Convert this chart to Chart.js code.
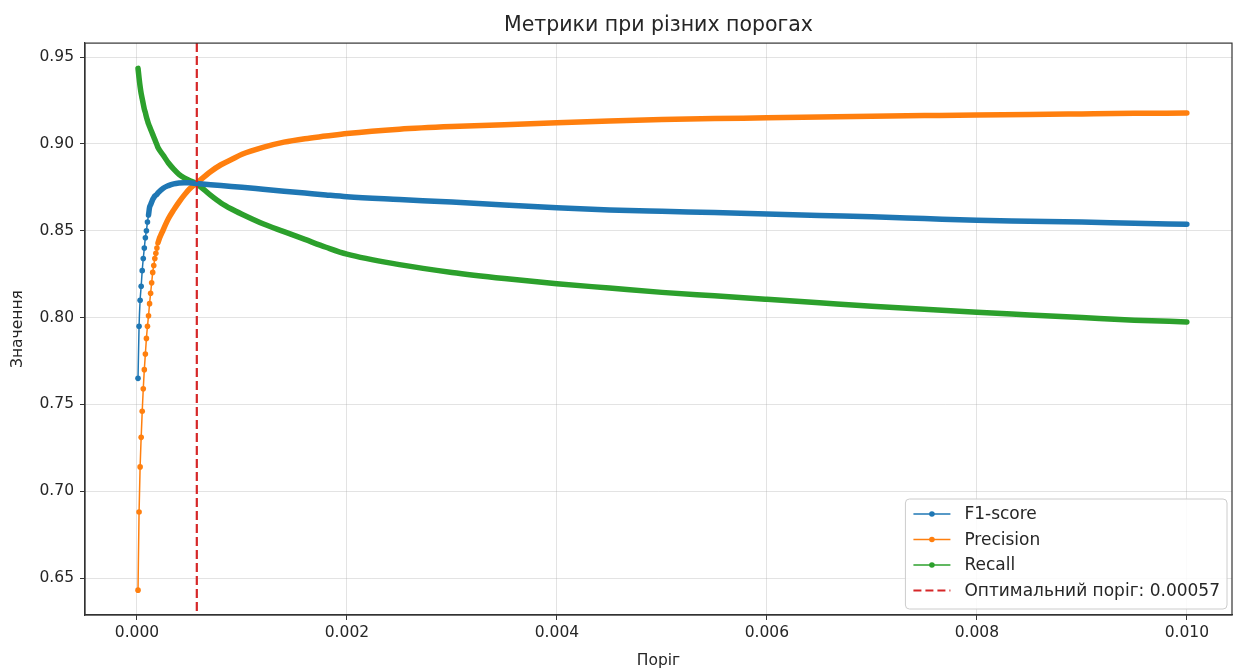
<!DOCTYPE html>
<html lang="uk">
<head>
  <meta charset="UTF-8">
  <title>Метрики при різних порогах</title>
  <script src="https://cdn.jsdelivr.net/npm/chart.js"></script>
  <style>
    html, body {
      margin: 0;
      padding: 0;
      background: #ffffff;
      overflow: hidden;
    }
    #wrap {
      width: 1236px;
      height: 670px;
    }
  </style>
</head>
<body>
  <div id="wrap"><canvas id="metricsChart" width="1236" height="670"></canvas></div>

  <script>
    // values
    const thresholds = [
      0.00001, 0.00002, 0.00003, 0.00004, 0.00005, 0.00006, 0.00007, 0.00008, 0.00009, 0.00010,
      0.00011, 0.00012, 0.00013, 0.00014, 0.00015, 0.00016, 0.00017, 0.00018, 0.00019, 0.00020,
      0.00025, 0.0003, 0.00035, 0.0004, 0.00045, 0.0005, 0.00057, 0.0007, 0.0008, 0.0009,
      0.001, 0.0012, 0.0014, 0.0016, 0.0018, 0.002, 0.0025, 0.003, 0.0035, 0.004,
      0.0045, 0.005, 0.0055, 0.006, 0.0065, 0.007, 0.0075, 0.008, 0.0085, 0.009,
      0.0095, 0.01
    ];
    const f1Score = [
      0.765, 0.795, 0.810, 0.818, 0.827, 0.834, 0.840, 0.846, 0.850, 0.855,
      0.859, 0.8635, 0.865, 0.8665, 0.868, 0.869, 0.870, 0.8705, 0.871, 0.8718,
      0.8745, 0.876, 0.877, 0.8775, 0.8777, 0.8776, 0.8772, 0.8765, 0.876, 0.8755,
      0.875, 0.8739, 0.8728, 0.8717, 0.8706, 0.8696, 0.868, 0.8665, 0.8648, 0.8633,
      0.862, 0.8612, 0.8605, 0.8597, 0.8588, 0.858, 0.857, 0.856, 0.8555, 0.855,
      0.8543, 0.8537
    ];
    const precision = [
      0.643, 0.688, 0.714, 0.731, 0.746, 0.759, 0.770, 0.779, 0.788, 0.795,
      0.801, 0.808, 0.814, 0.820, 0.826, 0.830, 0.834, 0.837, 0.840, 0.843,
      0.8505, 0.857, 0.862, 0.8665, 0.8705, 0.874, 0.8775, 0.884, 0.888, 0.891,
      0.894, 0.898, 0.901, 0.903, 0.9045, 0.906, 0.9085, 0.910, 0.911, 0.9122,
      0.9132, 0.914, 0.9146, 0.915, 0.9155, 0.916, 0.9163, 0.9166, 0.917, 0.9173,
      0.9176, 0.9178
    ];
    const recall = [
      0.9435, 0.938, 0.933, 0.929, 0.926, 0.923, 0.920, 0.918, 0.9155, 0.9135,
      0.9115, 0.910, 0.9085, 0.907, 0.9055, 0.904, 0.9025, 0.901, 0.8995, 0.898,
      0.8935, 0.889, 0.8855, 0.8825, 0.8805, 0.879, 0.877, 0.8705, 0.866, 0.8625,
      0.8595, 0.854, 0.8495, 0.845, 0.8405, 0.8365, 0.8305, 0.826, 0.8225, 0.8195,
      0.817, 0.8145, 0.8125, 0.8105, 0.8085, 0.8065, 0.8048, 0.803, 0.8015, 0.800,
      0.7985, 0.7975
    ];
    const xTicks = [0, 0.002, 0.004, 0.006, 0.008, 0.010];
    const yTicks = [0.65, 0.70, 0.75, 0.80, 0.85, 0.90, 0.95];
    const optimalThreshold = 0.00057;

    const FONT = "'DejaVu Sans', sans-serif";
    const TEXT = '#262626';
    const RED = '#d62728';

    function toPoints(values) {
      return thresholds.map((t, i) => ({ x: t, y: values[i] }));
    }

    // early points stand apart as dots; further on they merge into a thick band
    function series(label, values, color, bandFrom) {
      return {
        label: label,
        data: toPoints(values),
        borderColor: color,
        backgroundColor: color,
        borderWidth: 1.5,
        borderCapStyle: 'round',
        borderJoinStyle: 'round',
        cubicInterpolationMode: 'monotone',
        pointRadius: ctx => (ctx.dataIndex < bandFrom ? 2.8 : 0),
        pointBorderWidth: 0,
        pointBackgroundColor: color,
        segment: {
          borderWidth: ctx => (ctx.p0DataIndex >= bandFrom ? 5.5 : 1.5)
        }
      };
    }

    const frameAndThreshold = {
      id: 'frameAndThreshold',
      afterDatasetsDraw(chart) {
        const { ctx, chartArea, scales } = chart;
        const x = scales.x.getPixelForValue(optimalThreshold);
        ctx.save();
        ctx.strokeStyle = RED;
        ctx.lineWidth = 2.2;
        ctx.setLineDash([9, 4]);
        ctx.beginPath();
        ctx.moveTo(x, chartArea.top);
        ctx.lineTo(x, chartArea.bottom);
        ctx.stroke();
        ctx.setLineDash([]);
        ctx.strokeStyle = '#333333';
        ctx.lineWidth = 1.2;
        ctx.strokeRect(chartArea.left, chartArea.top,
          chartArea.right - chartArea.left, chartArea.bottom - chartArea.top);
        ctx.restore();
      }
    };

    const boxLegend = {
      id: 'boxLegend',
      afterDraw(chart) {
        const { ctx, chartArea } = chart;
        const items = chart.data.datasets.map(d => ({ label: d.label, color: d.borderColor, dashed: false }));
        items.push({ label: 'Оптимальний поріг: ' + optimalThreshold, color: RED, dashed: true });

        ctx.save();
        ctx.font = '17px ' + FONT;
        const textW = Math.max(...items.map(it => ctx.measureText(it.label).width));
        const rowH = 25.5;
        const w = 8 + 37 + 14 + textW + 7;
        const h = items.length * rowH + 8;
        const right = chartArea.right - 5;
        const bottom = chartArea.bottom - 6;
        const left = right - w;
        const top = bottom - h;

        ctx.fillStyle = 'rgba(255,255,255,0.85)';
        ctx.strokeStyle = '#cccccc';
        ctx.lineWidth = 1;
        ctx.beginPath();
        ctx.roundRect(left, top, w, h, 4);
        ctx.fill();
        ctx.stroke();

        items.forEach((it, i) => {
          const cy = top + 15 + i * rowH;
          const x0 = left + 8;
          ctx.strokeStyle = it.color;
          ctx.lineWidth = it.dashed ? 2.2 : 1.5;
          ctx.setLineDash(it.dashed ? [8, 4] : []);
          ctx.beginPath();
          ctx.moveTo(x0, cy);
          ctx.lineTo(x0 + 37, cy);
          ctx.stroke();
          ctx.setLineDash([]);
          if (!it.dashed) {
            ctx.fillStyle = it.color;
            ctx.beginPath();
            ctx.arc(x0 + 18.5, cy, 2.8, 0, Math.PI * 2);
            ctx.fill();
          }
          ctx.fillStyle = TEXT;
          ctx.textBaseline = 'middle';
          ctx.fillText(it.label, x0 + 37 + 14, cy + 1);
        });
        ctx.restore();
      }
    };

    new Chart(document.getElementById('metricsChart'), {
      type: 'line',
      data: {
        datasets: [
          series('F1-score', f1Score, '#1f77b4', 10),
          series('Precision', precision, '#ff7f0e', 19),
          series('Recall', recall, '#2ca02c', 0)
        ]
      },
      options: {
        responsive: false,
        animation: false,
        layout: { padding: { left: 0, right: 4, top: 0, bottom: 0 } },
        plugins: {
          legend: { display: false },
          tooltip: { enabled: false },
          title: {
            display: true,
            fullSize: false,
            text: 'Метрики при різних порогах',
            color: TEXT,
            font: { family: FONT, size: 20.5, weight: 'normal' },
            padding: { top: 13, bottom: 5.5 }
          }
        },
        scales: {
          x: {
            type: 'linear',
            min: -0.000495,
            max: 0.01043,
            afterBuildTicks: s => { s.ticks = xTicks.map(v => ({ value: v })); },
            afterFit: s => { s.height = 55; },
            ticks: {
              color: TEXT,
              font: { family: FONT, size: 15.5 },
              padding: 4,
              maxRotation: 0,
              callback: v => Number(v).toFixed(3)
            },
            grid: {
              color: 'rgba(176,176,176,0.35)',
              lineWidth: 1,
              tickLength: 5,
              tickColor: '#333333'
            },
            border: { color: '#333333', width: 1.2 },
            title: {
              display: true,
              text: 'Поріг',
              color: TEXT,
              font: { family: FONT, size: 15.5 },
              padding: { top: 0, bottom: 0 }
            }
          },
          y: {
            type: 'linear',
            min: 0.6287,
            max: 0.95806,
            afterBuildTicks: s => { s.ticks = yTicks.map(v => ({ value: v })); },
            afterFit: s => { s.width = 85; },
            ticks: {
              color: TEXT,
              font: { family: FONT, size: 15.5 },
              padding: 6,
              callback: v => Number(v).toFixed(2)
            },
            grid: {
              color: 'rgba(176,176,176,0.35)',
              lineWidth: 1,
              tickLength: 5,
              tickColor: '#333333'
            },
            border: { color: '#333333', width: 1.2 },
            title: {
              display: true,
              text: 'Значення',
              color: TEXT,
              font: { family: FONT, size: 15.5 },
              padding: { top: 9, bottom: 0 }
            }
          }
        }
      },
      plugins: [frameAndThreshold, boxLegend]
    });
  </script>
</body>
</html>
